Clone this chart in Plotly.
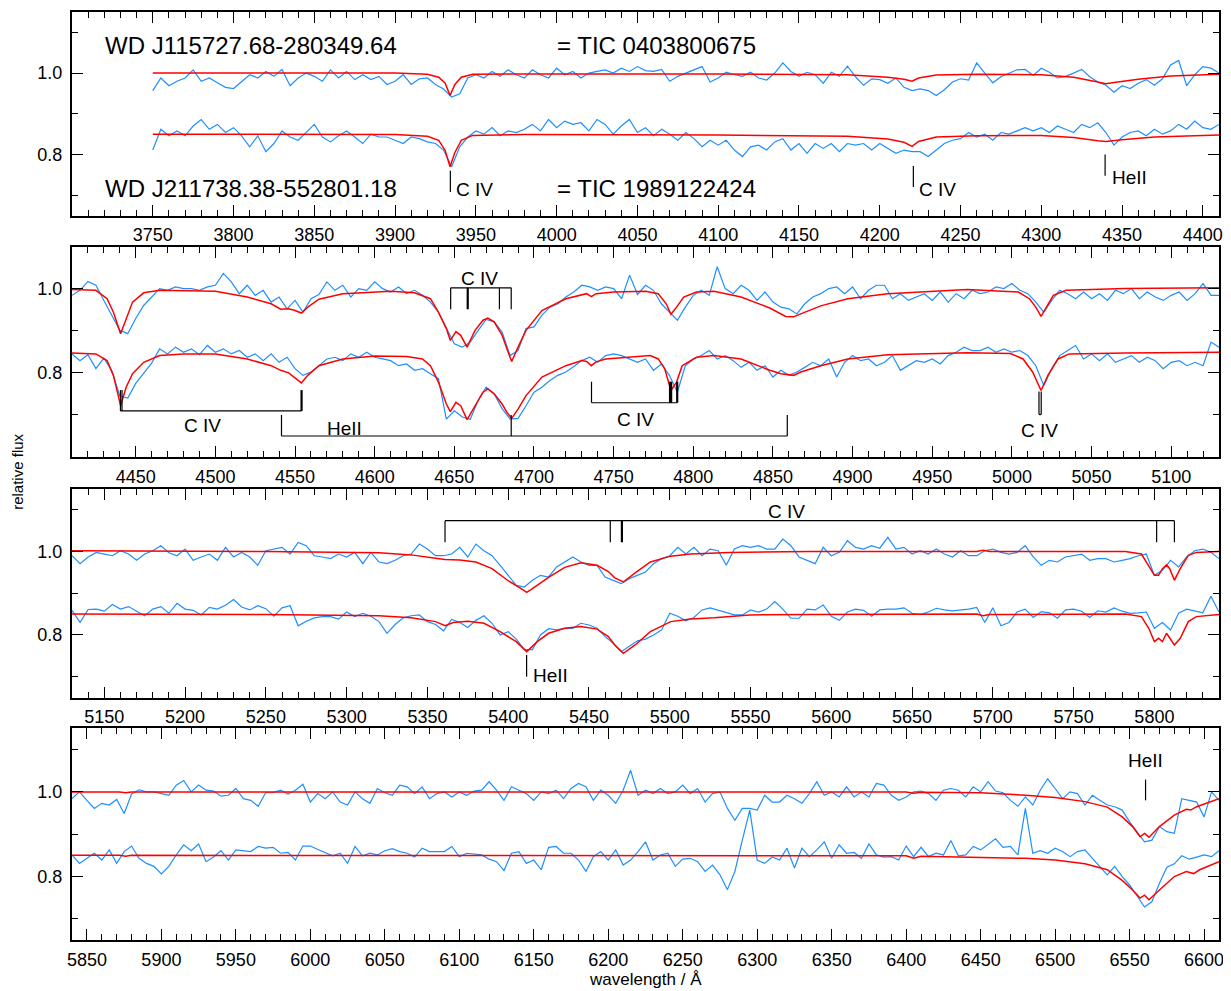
import math
import plotly.graph_objects as go

FONT = "Liberation Sans, Arial, Helvetica, sans-serif"
BLUE = "#1f8fff"
RED = "#ff0000"
STEP = 5  # sampling of the read-off observed spectra (Angstrom)

# ---------------- panel 1 : 3700-4410 A ----------------
p1_start = 3750
p1_obs_top = [
    0.957, 0.988, 0.969, 0.980, 0.988, 1.008, 0.980, 0.988, 0.976, 0.965,
    0.962, 0.980, 0.996, 0.988, 1.004, 0.992, 1.009, 0.969, 0.988, 1.000,
    0.992, 0.980, 1.008, 0.988, 1.004, 0.984, 0.996, 0.984, 0.992, 0.972,
    0.980, 0.996, 0.972, 0.986, 0.988, 0.972, 0.961, 0.941, 0.949, 0.988,
    0.996, 0.988, 1.004, 0.992, 1.008, 0.996, 0.988, 1.008, 0.996, 0.988,
    1.012, 0.996, 1.004, 0.988, 1.000, 1.004, 1.008, 1.000, 1.012, 1.004,
    1.016, 1.006, 1.004, 1.009, 0.980, 0.992, 1.000, 1.008, 1.016, 0.978,
    0.988, 1.002, 0.996, 0.992, 1.002, 0.988, 0.983, 1.000, 1.025, 1.004,
    0.992, 1.002, 0.996, 0.975, 1.002, 0.992, 1.017, 0.991, 0.970, 0.986,
    0.984, 0.975, 0.988, 0.965, 0.957, 0.961, 0.957, 0.945, 0.959, 0.978,
    0.986, 0.983, 1.025, 1.000, 0.976, 0.991, 1.000, 1.008, 1.009, 0.994,
    1.012, 1.002, 0.988, 0.992, 1.000, 1.009, 0.991, 0.978, 0.970, 0.953,
    0.969, 0.962, 0.975, 0.984, 0.970, 0.986, 1.020, 1.031, 0.969, 0.996,
    1.016, 1.012, 1.000]
p1_obs_bot = [
    0.811, 0.862, 0.846, 0.858, 0.846, 0.870, 0.886, 0.862, 0.874, 0.854,
    0.866, 0.846, 0.819, 0.846, 0.807, 0.827, 0.858, 0.843, 0.835, 0.854,
    0.874, 0.843, 0.831, 0.846, 0.858, 0.843, 0.827, 0.850, 0.843, 0.843,
    0.835, 0.827, 0.843, 0.839, 0.831, 0.827, 0.811, 0.770, 0.819, 0.843,
    0.858, 0.850, 0.866, 0.846, 0.858, 0.854, 0.862, 0.874, 0.858, 0.886,
    0.866, 0.882, 0.874, 0.878, 0.858, 0.886, 0.874, 0.850, 0.870, 0.886,
    0.854, 0.866, 0.846, 0.862, 0.850, 0.835, 0.854, 0.839, 0.819, 0.835,
    0.823, 0.835, 0.811, 0.795, 0.819, 0.823, 0.811, 0.831, 0.839, 0.811,
    0.827, 0.803, 0.827, 0.815, 0.827, 0.807, 0.827, 0.823, 0.827, 0.811,
    0.827, 0.815, 0.803, 0.811, 0.807, 0.807, 0.795, 0.811, 0.827, 0.835,
    0.839, 0.854, 0.843, 0.850, 0.835, 0.854, 0.850, 0.858, 0.866, 0.858,
    0.866, 0.854, 0.870, 0.862, 0.854, 0.874, 0.866, 0.878, 0.854, 0.823,
    0.843, 0.854, 0.858, 0.846, 0.862, 0.850, 0.858, 0.874, 0.862, 0.882,
    0.866, 0.862, 0.874]
p1_mod_top_wl = [3750, 3900, 3920, 3927, 3931, 3934, 3937, 3941, 3948, 3980, 4100, 4180, 4205,
                 4215, 4220, 4224, 4235, 4260, 4300, 4320, 4335, 4340, 4345, 4360, 4380, 4410]
p1_mod_top_fx = [1.000, 1.000, 0.997, 0.990, 0.975, 0.945, 0.972, 0.990, 0.997, 0.998, 0.998, 0.996, 0.990,
                 0.985, 0.980, 0.988, 0.995, 0.997, 0.996, 0.990, 0.978, 0.974, 0.977, 0.985, 0.993, 0.997]
p1_mod_bot_wl = [3750, 3900, 3920, 3927, 3931, 3934, 3937, 3941, 3948, 3980, 4100, 4180, 4205,
                 4215, 4220, 4224, 4235, 4260, 4300, 4320, 4335, 4340, 4350, 4370, 4410]
p1_mod_bot_fx = [0.850, 0.849, 0.845, 0.835, 0.810, 0.770, 0.805, 0.835, 0.847, 0.849, 0.848, 0.845, 0.838,
                 0.830, 0.820, 0.832, 0.843, 0.846, 0.847, 0.842, 0.834, 0.832, 0.836, 0.843, 0.848]

# ---------------- panel 2 : 4410-5130 A ----------------
p2_start = 4410
p2_obs_top = [
    0.984, 0.996, 1.017, 1.008, 0.972, 0.937, 0.901, 0.893, 0.929, 0.960,
    0.980, 1.000, 0.996, 1.004, 1.000, 1.000, 0.996, 1.004, 1.008, 1.036,
    1.016, 0.988, 1.008, 0.984, 0.996, 0.968, 0.980, 0.952, 0.972, 0.944,
    0.976, 0.986, 1.016, 0.996, 1.008, 0.980, 1.000, 0.996, 1.016, 1.000,
    0.992, 1.004, 0.988, 0.996, 0.984, 0.968, 0.944, 0.905, 0.869, 0.861,
    0.873, 0.901, 0.927, 0.921, 0.897, 0.841, 0.853, 0.905, 0.909, 0.937,
    0.956, 0.964, 0.980, 0.992, 1.008, 1.004, 0.996, 1.004, 1.000, 0.976,
    1.032, 0.986, 1.008, 0.996, 0.964, 0.944, 0.925, 0.956, 0.984, 0.996,
    0.984, 1.052, 1.000, 0.988, 1.008, 0.996, 0.972, 0.992, 0.968, 0.956,
    0.952, 0.940, 0.964, 0.980, 0.988, 1.000, 1.004, 0.988, 1.004, 0.976,
    0.996, 1.008, 1.008, 0.976, 0.988, 0.972, 0.980, 0.988, 0.972, 0.992,
    0.968, 0.988, 0.976, 0.996, 0.988, 0.992, 1.004, 1.000, 1.012, 0.996,
    0.988, 0.968, 0.944, 0.972, 0.996, 0.988, 0.976, 0.992, 0.976, 0.988,
    0.972, 0.996, 0.988, 1.000, 0.976, 0.992, 0.980, 0.972, 0.984, 0.992,
    0.972, 0.988, 1.012, 0.984, 0.984]
p2_obs_bot = [
    0.845, 0.829, 0.843, 0.810, 0.835, 0.805, 0.745, 0.740, 0.775, 0.800,
    0.823, 0.857, 0.845, 0.861, 0.849, 0.857, 0.843, 0.865, 0.849, 0.857,
    0.845, 0.853, 0.837, 0.845, 0.829, 0.845, 0.825, 0.837, 0.810, 0.794,
    0.802, 0.817, 0.833, 0.837, 0.829, 0.845, 0.837, 0.849, 0.837, 0.833,
    0.829, 0.817, 0.821, 0.806, 0.810, 0.798, 0.786, 0.690, 0.710, 0.695,
    0.690, 0.735, 0.766, 0.750, 0.715, 0.690, 0.692, 0.722, 0.754, 0.766,
    0.782, 0.794, 0.802, 0.815, 0.829, 0.837, 0.825, 0.841, 0.845, 0.841,
    0.833, 0.825, 0.833, 0.806, 0.821, 0.794, 0.754, 0.817, 0.833, 0.841,
    0.853, 0.833, 0.841, 0.829, 0.813, 0.825, 0.806, 0.817, 0.790, 0.806,
    0.794, 0.802, 0.813, 0.825, 0.817, 0.833, 0.790, 0.825, 0.841, 0.829,
    0.833, 0.817, 0.825, 0.841, 0.806, 0.817, 0.829, 0.825, 0.833, 0.821,
    0.841, 0.849, 0.861, 0.853, 0.853, 0.861, 0.849, 0.857, 0.849, 0.853,
    0.841, 0.817, 0.770, 0.810, 0.841, 0.853, 0.865, 0.833, 0.845, 0.829,
    0.845, 0.825, 0.833, 0.841, 0.825, 0.837, 0.829, 0.810, 0.825, 0.829,
    0.817, 0.825, 0.817, 0.873, 0.861]
p2_mod_top_wl = [4410, 4425, 4432, 4436, 4440.5, 4444, 4448, 4455, 4465, 4500, 4520, 4535, 4541, 4546,
                 4550, 4554, 4558, 4565, 4580, 4610, 4625, 4635, 4640, 4645, 4647.5, 4651, 4654, 4658,
                 4663, 4668, 4671, 4675, 4680, 4683, 4686, 4690, 4695, 4705, 4720, 4733, 4736, 4739,
                 4750, 4770, 4778, 4783, 4786, 4789.5, 4794, 4802, 4813, 4830, 4848, 4858, 4863,
                 4867.5, 4880, 4897, 4922, 4972, 5004, 5011, 5015, 5018.3, 5021, 5026, 5034, 5071, 5130]
p2_mod_top_fx = [0.998, 0.996, 0.976, 0.944, 0.893, 0.929, 0.968, 0.990, 0.996, 0.994, 0.980, 0.964, 0.951, 0.952,
                 0.948, 0.942, 0.956, 0.975, 0.988, 0.994, 0.990, 0.976, 0.944, 0.905, 0.877, 0.898, 0.889, 0.861,
                 0.901, 0.925, 0.930, 0.921, 0.889, 0.857, 0.827, 0.861, 0.901, 0.948, 0.976, 0.988, 0.981, 0.988,
                 0.992, 0.994, 0.988, 0.964, 0.939, 0.956, 0.980, 0.992, 0.994, 0.980, 0.954, 0.934, 0.933,
                 0.940, 0.959, 0.976, 0.988, 0.998, 0.992, 0.976, 0.956, 0.934, 0.952, 0.984, 0.996, 1.000, 1.002]
p2_mod_bot_wl = [4410, 4425, 4432, 4436, 4440.5, 4444, 4448, 4455, 4465, 4480, 4500, 4520, 4535, 4541,
                 4546, 4550, 4554, 4558, 4565, 4580, 4600, 4620, 4630, 4635, 4640, 4645, 4647.5, 4651,
                 4654, 4658, 4663, 4668, 4671, 4675, 4680, 4683, 4686, 4690, 4695, 4705, 4720, 4730,
                 4733, 4736, 4739, 4745, 4773, 4778, 4782, 4786, 4789.5, 4793, 4802, 4813, 4830, 4848,
                 4855, 4863, 4867.5, 4880, 4897, 4922, 4972, 4999, 5007, 5013, 5018.3, 5022.6, 5029,
                 5036, 5071, 5130]
p2_mod_bot_fx = [0.847, 0.845, 0.829, 0.794, 0.722, 0.766, 0.798, 0.825, 0.841, 0.845, 0.845, 0.833, 0.817, 0.806,
                 0.800, 0.787, 0.776, 0.794, 0.817, 0.833, 0.840, 0.839, 0.833, 0.817, 0.778, 0.726, 0.708, 0.730,
                 0.722, 0.689, 0.722, 0.754, 0.762, 0.750, 0.726, 0.706, 0.692, 0.714, 0.746, 0.790, 0.817, 0.829,
                 0.827, 0.817, 0.826, 0.833, 0.841, 0.833, 0.810, 0.758, 0.778, 0.817, 0.837, 0.841, 0.833, 0.806,
                 0.798, 0.794, 0.802, 0.817, 0.833, 0.843, 0.848, 0.846, 0.833, 0.802, 0.758, 0.794, 0.833,
                 0.845, 0.847, 0.849]

# ---------------- panel 3 : 5130-5840 A ----------------
p3_start = 5130
p3_obs_top = [
    0.990, 0.971, 0.987, 0.998, 0.994, 0.990, 1.002, 0.994, 0.979, 0.994,
    1.002, 1.014, 0.997, 0.990, 1.006, 0.979, 0.987, 0.994, 0.979, 1.010,
    0.987, 0.998, 0.987, 0.967, 1.002, 1.006, 1.010, 0.994, 1.022, 1.014,
    0.990, 0.987, 0.983, 0.994, 0.987, 0.998, 0.971, 0.998, 0.975, 0.971,
    0.979, 0.990, 0.994, 1.018, 1.006, 0.990, 0.990, 0.994, 1.010, 0.987,
    1.018, 1.002, 0.990, 0.967, 0.943, 0.919, 0.915, 0.931, 0.943, 0.939,
    0.963, 0.975, 0.987, 0.975, 0.967, 0.967, 0.939, 0.931, 0.923, 0.935,
    0.943, 0.951, 0.971, 0.983, 0.990, 1.010, 0.994, 1.010, 0.990, 1.006,
    1.002, 0.967, 1.006, 1.014, 1.010, 1.014, 1.006, 1.006, 1.030, 1.014,
    0.987, 0.979, 0.971, 1.010, 0.990, 0.998, 1.026, 1.010, 1.006, 1.014,
    1.008, 1.034, 1.006, 1.010, 0.994, 1.002, 0.994, 1.006, 0.994, 0.987,
    1.002, 0.990, 0.990, 1.002, 1.006, 0.998, 0.994, 0.998, 1.014, 0.987,
    0.967, 0.979, 0.975, 0.987, 0.990, 0.994, 0.979, 0.983, 0.983, 0.975,
    0.979, 0.983, 0.990, 0.994, 0.943, 0.955, 0.979, 0.963, 0.987, 1.002,
    1.006, 0.998, 0.983]
p3_obs_bot = [
    0.859, 0.830, 0.861, 0.862, 0.857, 0.873, 0.862, 0.868, 0.857, 0.846,
    0.862, 0.868, 0.852, 0.876, 0.862, 0.859, 0.848, 0.866, 0.862, 0.871,
    0.885, 0.867, 0.860, 0.870, 0.863, 0.845, 0.865, 0.870, 0.822, 0.833,
    0.841, 0.844, 0.844, 0.838, 0.855, 0.844, 0.852, 0.845, 0.832, 0.804,
    0.825, 0.841, 0.846, 0.848, 0.832, 0.825, 0.810, 0.837, 0.830, 0.818,
    0.835, 0.846, 0.828, 0.800, 0.808, 0.790, 0.765, 0.765, 0.800, 0.815,
    0.812, 0.816, 0.816, 0.828, 0.824, 0.816, 0.796, 0.780, 0.760, 0.772,
    0.786, 0.790, 0.800, 0.812, 0.852, 0.845, 0.834, 0.842, 0.860, 0.865,
    0.859, 0.854, 0.848, 0.848, 0.860, 0.855, 0.862, 0.880, 0.862, 0.840,
    0.840, 0.862, 0.860, 0.872, 0.845, 0.835, 0.855, 0.862, 0.859, 0.845,
    0.860, 0.862, 0.862, 0.865, 0.852, 0.849, 0.855, 0.864, 0.860, 0.858,
    0.860, 0.862, 0.866, 0.830, 0.865, 0.822, 0.830, 0.855, 0.862, 0.842,
    0.856, 0.853, 0.840, 0.860, 0.862, 0.857, 0.842, 0.858, 0.855, 0.865,
    0.857, 0.852, 0.853, 0.855, 0.816, 0.830, 0.812, 0.852, 0.862, 0.857,
    0.853, 0.893, 0.855]
p3_mod_top_wl = [5130, 5250, 5320, 5340, 5355, 5361, 5370, 5380, 5390, 5400, 5408, 5411.5, 5415, 5425,
                 5435, 5445, 5455, 5462, 5466, 5471.3, 5478.6, 5488, 5500.6, 5513, 5537, 5586, 5690,
                 5694, 5698, 5782, 5792, 5796.5, 5800, 5802.6, 5805, 5807.5, 5809.5, 5812.4, 5816,
                 5821, 5826, 5840]
p3_mod_top_fx = [1.002, 1.000, 0.997, 0.992, 0.984, 0.981, 0.980, 0.975, 0.959, 0.930, 0.911, 0.902, 0.911, 0.938,
                 0.962, 0.973, 0.967, 0.952, 0.937, 0.927, 0.949, 0.975, 0.989, 0.994, 0.998, 1.000, 1.000,
                 1.003, 1.000, 1.000, 0.994, 0.967, 0.943, 0.943, 0.959, 0.968, 0.959, 0.931, 0.959,
                 0.991, 0.998, 1.000]
p3_mod_bot_wl = [5130, 5250, 5320, 5340, 5355, 5361, 5366, 5375, 5385, 5395, 5405, 5411.5, 5418, 5425,
                 5435, 5445, 5455, 5462, 5466, 5471.3, 5478.6, 5488, 5500.6, 5513, 5527.5, 5549.5, 5586,
                 5690, 5694, 5698, 5782, 5792, 5796.5, 5800, 5802.6, 5805, 5807.5, 5809.5, 5812.4,
                 5816, 5821, 5826, 5840]
p3_mod_bot_fx = [0.850, 0.849, 0.846, 0.841, 0.832, 0.822, 0.830, 0.833, 0.828, 0.808, 0.784, 0.760, 0.784, 0.804,
                 0.816, 0.820, 0.814, 0.796, 0.776, 0.756, 0.776, 0.808, 0.832, 0.838, 0.841, 0.848, 0.849,
                 0.850, 0.846, 0.849, 0.850, 0.844, 0.816, 0.784, 0.792, 0.784, 0.804, 0.792, 0.776,
                 0.792, 0.832, 0.844, 0.849]

# ---------------- panel 4 : 5840-6610 A ----------------
p4_start = 5840
p4_obs_top = [
    0.984, 1.000, 0.980, 0.961, 0.973, 0.969, 0.982, 0.949, 0.995, 1.005,
    1.000, 1.000, 0.996, 0.992, 1.016, 1.027, 1.000, 1.016, 1.004, 1.002,
    0.990, 0.992, 1.008, 0.984, 0.980, 0.966, 0.998, 0.998, 1.004, 0.995,
    1.004, 1.018, 0.976, 0.996, 0.984, 1.000, 0.976, 0.969, 1.000, 0.984,
    0.973, 1.008, 0.998, 0.992, 1.016, 1.012, 0.996, 1.012, 0.984, 0.996,
    1.000, 0.988, 1.000, 0.992, 1.002, 1.004, 1.024, 1.004, 0.980, 1.012,
    1.004, 0.996, 0.980, 1.000, 0.996, 1.004, 0.984, 1.008, 1.020, 1.012,
    0.980, 1.004, 0.992, 0.973, 1.004, 1.051, 0.992, 1.004, 0.996, 1.008,
    0.996, 1.000, 1.016, 0.996, 1.008, 0.976, 0.996, 1.000, 0.961, 0.933,
    0.961, 0.961, 0.957, 0.992, 0.976, 0.976, 0.992, 0.984, 0.973, 0.996,
    1.024, 0.992, 1.000, 0.988, 1.012, 0.988, 1.000, 0.988, 1.020, 1.016,
    0.992, 0.980, 0.988, 1.000, 1.002, 0.996, 0.980, 1.004, 1.008, 1.004,
    0.988, 1.012, 1.000, 1.024, 1.002, 0.998, 0.980, 0.966, 0.988, 0.969,
    1.004, 1.031, 1.008, 0.984, 1.000, 0.996, 0.969, 0.992, 0.980, 0.969,
    0.965, 0.957, 0.929, 0.906, 0.882, 0.886, 0.918, 0.906, 0.902, 0.984,
    0.980, 0.976, 0.941, 1.000, 0.980]
p4_obs_bot = [
    0.851, 0.831, 0.843, 0.855, 0.839, 0.863, 0.831, 0.859, 0.872, 0.843,
    0.831, 0.824, 0.806, 0.824, 0.851, 0.875, 0.861, 0.877, 0.835, 0.846,
    0.861, 0.839, 0.863, 0.861, 0.859, 0.871, 0.867, 0.869, 0.855, 0.857,
    0.839, 0.872, 0.872, 0.864, 0.857, 0.849, 0.855, 0.831, 0.871, 0.849,
    0.855, 0.851, 0.861, 0.866, 0.859, 0.855, 0.846, 0.867, 0.859, 0.859,
    0.859, 0.871, 0.847, 0.855, 0.853, 0.851, 0.841, 0.835, 0.814, 0.855,
    0.859, 0.831, 0.839, 0.816, 0.869, 0.871, 0.855, 0.855, 0.839, 0.812,
    0.847, 0.859, 0.839, 0.863, 0.827, 0.839, 0.859, 0.882, 0.839, 0.851,
    0.855, 0.824, 0.841, 0.843, 0.835, 0.812, 0.827, 0.804, 0.769, 0.812,
    0.886, 0.957, 0.839, 0.831, 0.846, 0.839, 0.867, 0.820, 0.867, 0.847,
    0.863, 0.882, 0.843, 0.875, 0.855, 0.857, 0.843, 0.877, 0.851, 0.846,
    0.847, 0.839, 0.872, 0.847, 0.869, 0.847, 0.855, 0.851, 0.885, 0.849,
    0.851, 0.871, 0.863, 0.877, 0.889, 0.869, 0.871, 0.851, 0.961, 0.855,
    0.861, 0.855, 0.867, 0.859, 0.847, 0.859, 0.863, 0.843, 0.824, 0.804,
    0.824, 0.800, 0.780, 0.753, 0.728, 0.741, 0.784, 0.822, 0.830, 0.849,
    0.841, 0.846, 0.851, 0.847, 0.861]
p4_mod_top_wl = [5840, 5872, 5876, 5880, 6400, 6405, 6410, 6450, 6480, 6500, 6520, 6535, 6545, 6552,
                 6557, 6560, 6563, 6570, 6580, 6588, 6591, 6595, 6610]
p4_mod_top_fx = [1.000, 1.000, 0.998, 1.000, 1.000, 0.997, 0.999, 0.998, 0.992, 0.987, 0.977, 0.964, 0.941, 0.918,
                 0.894, 0.902, 0.893, 0.918, 0.945, 0.959, 0.957, 0.965, 0.984]
p4_mod_bot_wl = [5840, 5872, 5876, 5880, 6400, 6405, 6410, 6450, 6480, 6500, 6520, 6535, 6545, 6552,
                 6557, 6560, 6563, 6570, 6580, 6588, 6593, 6597, 6610]
p4_mod_bot_fx = [0.850, 0.850, 0.848, 0.850, 0.849, 0.843, 0.848, 0.846, 0.843, 0.839, 0.830, 0.816, 0.791, 0.768,
                 0.749, 0.756, 0.745, 0.768, 0.800, 0.812, 0.807, 0.816, 0.835]

# ---------------- line identifications (wavelengths, A) ----------------
id_p1_civ = [3934.2, 4220.8]
id_p1_heii = [4339.5]
id_p2_civ_top = [4647.7, 4658.4, 4678.3, 4685.7]
id_p2_civ_a = [4440.4, 4441.4, 4554.1]
id_p2_heii = [4541.5, 4685.7, 4859.0]
id_p2_civ_b = [4736.1, 4785.4, 4786.4, 4789.9]
id_p2_civ_c = [5017.0, 5018.4]
id_p3_civ = [5360.9, 5463.2, 5470.4, 5801.4, 5812.4]
id_p3_heii = [5411.4]
id_p4_heii = [6560.7]

star_names = ["WD J115727.68-280349.64", "WD J211738.38-552801.18"]
tic_names = ["= TIC 0403800675", "= TIC 1989122424"]

# ---------------- figure ----------------
panels = [
    dict(xr=[3700, 4410], yr=[0.65, 1.15], dom=[0.7806, 1.0], start=p1_start,
         top=p1_obs_top, bot=p1_obs_bot,
         mt=(p1_mod_top_wl, p1_mod_top_fx), mb=(p1_mod_bot_wl, p1_mod_bot_fx)),
    dict(xr=[4410, 5130], yr=[0.60, 1.10], dom=[0.5204, 0.7473], start=p2_start,
         top=p2_obs_top, bot=p2_obs_bot,
         mt=(p2_mod_top_wl, p2_mod_top_fx), mb=(p2_mod_bot_wl, p2_mod_bot_fx)),
    dict(xr=[5130, 5840], yr=[0.65, 1.15], dom=[0.2613, 0.4860], start=p3_start,
         top=p3_obs_top, bot=p3_obs_bot,
         mt=(p3_mod_top_wl, p3_mod_top_fx), mb=(p3_mod_bot_wl, p3_mod_bot_fx)),
    dict(xr=[5840, 6610], yr=[0.65, 1.15], dom=[0.0, 0.2280], start=p4_start,
         top=p4_obs_top, bot=p4_obs_bot,
         mt=(p4_mod_top_wl, p4_mod_top_fx), mb=(p4_mod_bot_wl, p4_mod_bot_fx)),
]

fig = go.Figure()
layout = {}
for i, p in enumerate(panels):
    s = "" if i == 0 else str(i + 1)
    xa, ya = "x" + s, "y" + s
    for obs in (p["top"], p["bot"]):
        xs = [p["start"] + STEP * k for k in range(len(obs))]
        fig.add_trace(go.Scatter(x=xs, y=obs, mode="lines", xaxis=xa, yaxis=ya,
                                 line=dict(color=BLUE, width=1.2), showlegend=False,
                                 hoverinfo="skip"))
    for wl, fx in (p["mt"], p["mb"]):
        fig.add_trace(go.Scatter(x=wl, y=fx, mode="lines", xaxis=xa, yaxis=ya,
                                 line=dict(color=RED, width=1.5), showlegend=False,
                                 hoverinfo="skip"))
    x0, x1 = p["xr"]
    major = [v for v in range(int(math.ceil(x0 / 50.0)) * 50, int(x1) + 1, 50) if x0 < v < x1]
    layout["xaxis" + s] = dict(
        domain=[0, 1], range=p["xr"], anchor=ya, showline=True, linecolor="black",
        linewidth=2, mirror="ticks", ticks="inside", ticklen=11, tickwidth=1.3,
        tickcolor="black", tickmode="array", tickvals=major, ticktext=[str(v) for v in major],
        showgrid=False, zeroline=False,
        tickfont=dict(family=FONT, size=18, color="black"), ticklabelstandoff=2,
        minor=dict(ticks="inside", tick0=0, dtick=10, ticklen=6, tickwidth=1.1,
                   tickcolor="black", showgrid=False))
    layout["yaxis" + s] = dict(
        domain=p["dom"], range=p["yr"], anchor=xa, showline=True, linecolor="black",
        linewidth=2, mirror="ticks", ticks="inside", ticklen=11, tickwidth=1.3,
        tickcolor="black", tickvals=[0.8, 1.0], ticktext=["0.8", "1.0"],
        showgrid=False, zeroline=False,
        tickfont=dict(family=FONT, size=18, color="black"), ticklabelstandoff=4,
        minor=dict(ticks="inside", tickvals=[0.7, 0.9, 1.1], ticklen=6, tickwidth=1.1,
                   tickcolor="black", showgrid=False))

shapes = []
annotations = []


def seg(ax, x0, y0, x1, y1, w=1.2):
    s = "" if ax == 1 else str(ax)
    shapes.append(dict(type="line", xref="x" + s, yref="y" + s, x0=x0, x1=x1, y0=y0, y1=y1,
                       line=dict(color="black", width=w)))


def label(ax, x, y, text, anchor="left", size=19):
    s = "" if ax == 1 else str(ax)
    annotations.append(dict(xref="x" + s, yref="y" + s, x=x, y=y, text=text, showarrow=False,
                            xanchor=anchor, yanchor="middle",
                            font=dict(family=FONT, size=size, color="black")))


def bracket(ax, wls, level, tip, bold=()):
    seg(ax, min(wls), level, max(wls), level)
    for w in wls:
        seg(ax, w, level, w, tip, 2.2 if w in bold else 1.2)


# panel 1
seg(1, id_p1_civ[0], 0.708, id_p1_civ[0], 0.760)
seg(1, id_p1_civ[1], 0.720, id_p1_civ[1], 0.772)
seg(1, id_p1_heii[0], 0.748, id_p1_heii[0], 0.800)
label(1, id_p1_civ[0] + 2.5, 0.713, "C IV")
label(1, id_p1_civ[1] + 2.5, 0.715, "C IV")
label(1, id_p1_heii[0] + 3.0, 0.744, "HeII")
label(1, 3719, 1.067, star_names[0], size=24)
label(1, 3999, 1.067, tic_names[0], size=24)
label(1, 3719, 0.716, star_names[1], size=24)
label(1, 3999, 0.716, tic_names[1], size=24)

# panel 2
bracket(2, id_p2_civ_top, 1.002, 0.951, bold=(4658.4,))
label(2, 4666, 1.025, "C IV", anchor="center")
bracket(2, id_p2_civ_a, 0.7095, 0.759, bold=(4554.1,))
label(2, 4492, 0.674, "C IV", anchor="center")
bracket(2, id_p2_heii, 0.650, 0.700)
label(2, 4581, 0.669, "HeII", anchor="center")
bracket(2, id_p2_civ_b, 0.729, 0.779, bold=(4785.4, 4789.9))
label(2, 4763.5, 0.690, "C IV", anchor="center")
for w in id_p2_civ_c:
    seg(2, w, 0.701, w, 0.756)
seg(2, id_p2_civ_c[0], 0.701, id_p2_civ_c[1], 0.701)
label(2, 5017.3, 0.6635, "C IV", anchor="center")

# panel 3
bracket(3, id_p3_civ, 1.074, 1.022, bold=(5470.4,))
label(3, 5572, 1.096, "C IV", anchor="center")
seg(3, id_p3_heii[0], 0.700, id_p3_heii[0], 0.752)
label(3, id_p3_heii[0] + 2.5, 0.703, "HeII")

# panel 4
seg(4, id_p4_heii[0], 0.980, id_p4_heii[0], 1.029)
label(4, id_p4_heii[0], 1.073, "HeII", anchor="center")

# axis titles
annotations.append(dict(xref="paper", yref="paper", x=0.5, y=-0.043, text="wavelength / Å",
                        showarrow=False, xanchor="center", yanchor="middle",
                        font=dict(family=FONT, size=17, color="black")))
annotations.append(dict(xref="paper", yref="paper", x=-0.0475, y=0.504, text="relative flux",
                        showarrow=False, xanchor="center", yanchor="middle", textangle=-90,
                        font=dict(family=FONT, size=15, color="black")))

fig.update_layout(
    width=1223, height=983,
    margin=dict(l=64, r=12, t=2, b=51),
    paper_bgcolor="white", plot_bgcolor="white",
    shapes=shapes, annotations=annotations,
    **layout)

fig.write_html("out.html")
